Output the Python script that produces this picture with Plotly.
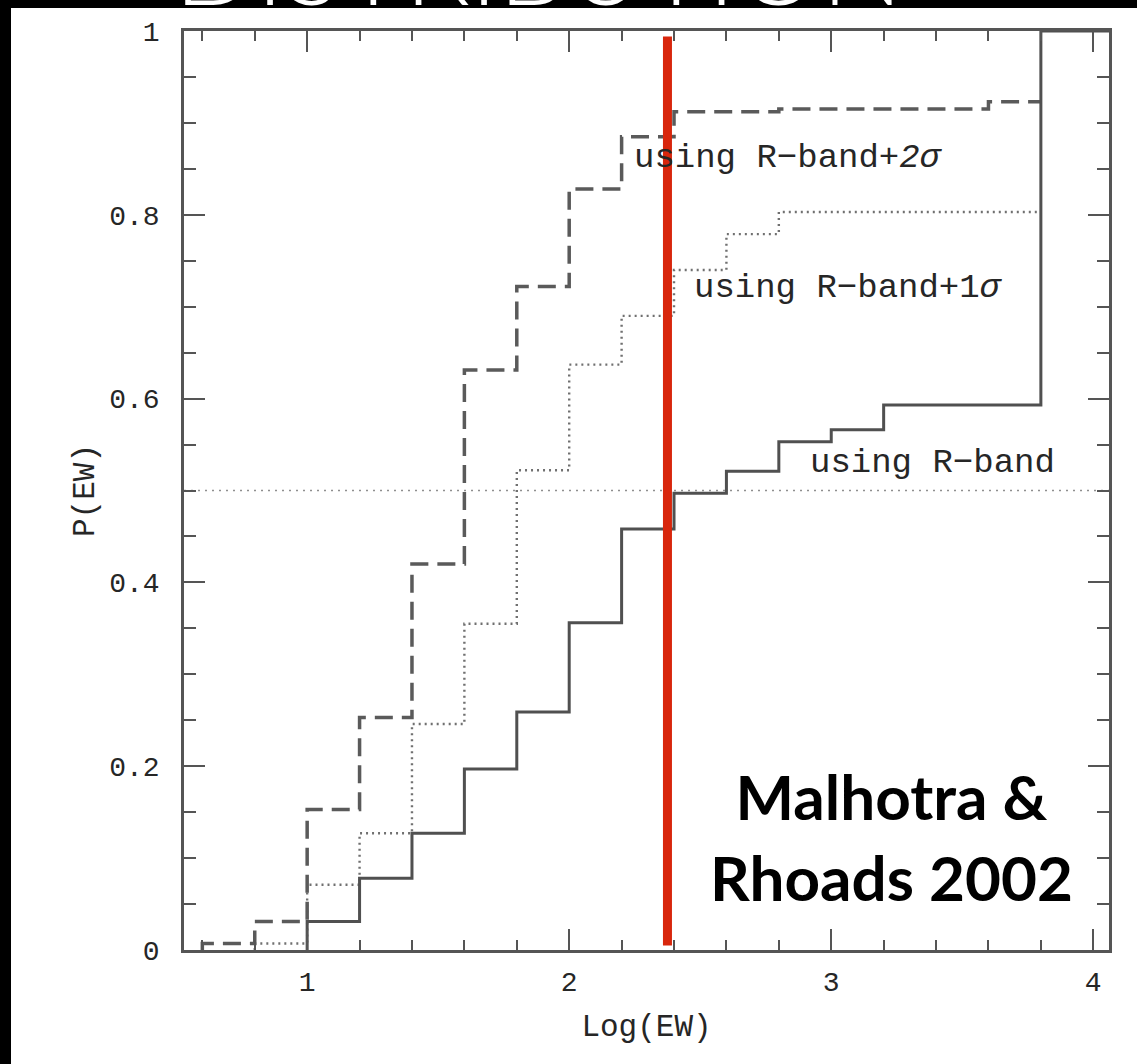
import plotly.graph_objects as go

# ---------------- data ----------------
BIN_LEFT = [0.6, 0.8, 1.0, 1.2, 1.4, 1.6, 1.8, 2.0, 2.2, 2.4, 2.6, 2.8, 3.0, 3.2, 3.4, 3.6]
BIN_RIGHT_END = 3.8

P_RBAND = [0, 0, 0.031, 0.078, 0.127, 0.197, 0.259, 0.356, 0.458, 0.497,
           0.521, 0.553, 0.566, 0.593, 0.593, 0.593]
P_RBAND_END = 1.0  # solid curve jumps to 1 at the last edge
P_RBAND_1SIG = [0, 0.007, 0.071, 0.127, 0.246, 0.355, 0.522, 0.637, 0.690, 0.740,
                0.779, 0.803, 0.803, 0.803, 0.803, 0.803]
P_RBAND_2SIG = [0.007, 0.031, 0.153, 0.253, 0.420, 0.631, 0.722, 0.828, 0.885, 0.912,
                0.912, 0.915, 0.915, 0.915, 0.915, 0.923]

HALF_LEVEL = 0.5
CUT_LOGEW = 2.375          # hand-drawn red marker
CUT_Y = [0.005, 0.994]

X_RANGE = [0.53, 4.06]
Y_RANGE = [0, 1]

LABELS = ["using R\u2212band+<i>2\u03c3</i>", "using R\u2212band+1<i>\u03c3</i>", "using R\u2212band"]
LABEL_X = [2.24, 2.47, 2.91]
LABEL_Y = [0.862, 0.72, 0.53]

CREDIT = "Malhotra &amp;<br>Rhoads 2002"
SLIDE_TITLE = "DISTRIBUTION"

# ---------------- layout geometry ----------------
W, H = 1137, 1064
ML, MR, MT, MB = 184, 28, 31, 114
PW, PH = W - ML - MR, H - MT - MB


def px_x(p):
    return (p - ML) / PW


def px_y(p):
    return 1 - (p - MT) / PH


def step_xy(vals, end_extra=None):
    i0 = next(i for i, v in enumerate(vals) if v > 0)
    xs = [BIN_LEFT[i0]] + BIN_LEFT[i0:] + [BIN_RIGHT_END]
    ys = [0] + vals[i0:] + [vals[-1]]
    if end_extra is not None:
        xs += [BIN_RIGHT_END, X_RANGE[1]]
        ys += [end_extra, end_extra]
    return xs, ys


MONO = "Liberation Mono"
TXT = "#262626"
fig = go.Figure()

fig.add_trace(go.Scatter(x=X_RANGE, y=[HALF_LEVEL, HALF_LEVEL], mode="lines",
                         line=dict(color="#8f8f8f", width=1.6, dash="2px,5px"),
                         showlegend=False, hoverinfo="skip"))

x1, y1 = step_xy(P_RBAND_1SIG)
fig.add_trace(go.Scatter(x=x1, y=y1, mode="lines", line_shape="hv",
                         line=dict(color="#707070", width=2.4, dash="2px,4px"),
                         showlegend=False))

x2, y2 = step_xy(P_RBAND_2SIG)
fig.add_trace(go.Scatter(x=x2, y=y2, mode="lines", line_shape="hv",
                         line=dict(color="#5a5a5a", width=3.5, dash="18px,9px"),
                         showlegend=False))

x0, y0 = step_xy(P_RBAND, end_extra=P_RBAND_END)
fig.add_trace(go.Scatter(x=x0, y=y0, mode="lines", line_shape="hv",
                         line=dict(color="#505050", width=3),
                         showlegend=False))

fig.add_trace(go.Scatter(x=[CUT_LOGEW, CUT_LOGEW], y=CUT_Y, mode="lines",
                         line=dict(color="#d8260c", width=9),
                         showlegend=False, hoverinfo="skip"))

for t, lx, ly in zip(LABELS, LABEL_X, LABEL_Y):
    fig.add_annotation(x=lx, y=ly, text=t, showarrow=False, xanchor="left",
                       yanchor="middle", font=dict(family=MONO, size=34, color=TXT))

fig.add_annotation(x=px_x(891), y=px_y(836), xref="paper", yref="paper", text=CREDIT,
                   showarrow=False, xanchor="center", yanchor="middle", align="center",
                   font=dict(family="Lato", size=62, color="#000000", weight="bold"))

# slide frame: black top band and left strip
fig.add_shape(type="rect", xref="paper", yref="paper", x0=px_x(0), x1=px_x(W),
              y0=px_y(8), y1=px_y(-5), fillcolor="black", line_width=0, layer="above")
fig.add_shape(type="rect", xref="paper", yref="paper", x0=px_x(-5), x1=px_x(11),
              y0=px_y(H + 5), y1=px_y(-5), fillcolor="black", line_width=0, layer="above")
fig.add_annotation(x=px_x(172), y=px_y(30), xref="paper", yref="paper", text=SLIDE_TITLE,
                   showarrow=False, xanchor="left", yanchor="bottom",
                   font=dict(family="Lato", size=108, color="white", weight=300))

axis_common = dict(showline=True, linecolor="#555555", linewidth=2.5, mirror="allticks",
                   ticks="inside", tickcolor="#555555", tickwidth=2, ticklen=21,
                   showgrid=False, zeroline=False,
                   tickfont=dict(family=MONO, size=28, color=TXT))

fig.update_xaxes(range=X_RANGE, tickmode="linear", tick0=0, dtick=1,
                 minor=dict(dtick=0.2, tick0=0, ticks="inside", ticklen=10,
                            tickwidth=2, tickcolor="#555555"),
                 ticklabelstandoff=5,
                 title=dict(text="Log(EW)", standoff=16,
                            font=dict(family=MONO, size=31, color=TXT)),
                 **axis_common)
fig.update_yaxes(range=Y_RANGE, tickmode="linear", tick0=0, dtick=0.2,
                 minor=dict(dtick=0.05, tick0=0, ticks="inside", ticklen=12,
                            tickwidth=2, tickcolor="#555555"),
                 ticklabelstandoff=16,
                 title=dict(text="P(EW)", standoff=6,
                            font=dict(family=MONO, size=31, color=TXT)),
                 **axis_common)

fig.update_layout(width=W, height=H, margin=dict(l=ML, r=MR, t=MT, b=MB),
                  paper_bgcolor="white", plot_bgcolor="white", showlegend=False)

fig.write_html("out.html")
